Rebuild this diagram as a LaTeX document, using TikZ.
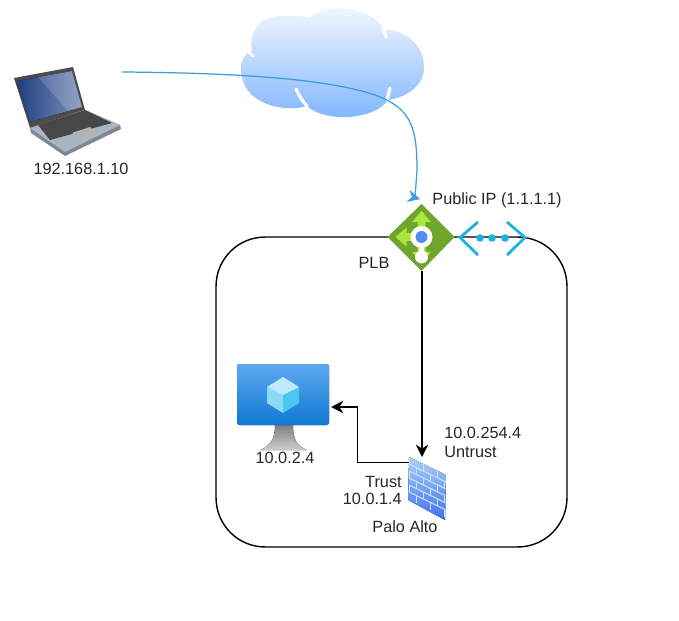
\documentclass[tikz,border=0pt]{standalone}
\usepackage{fontspec}
\setmainfont{Liberation Sans}
\usepackage{xcolor}
\usetikzlibrary{positioning, calc, arrows.meta}

\begin{document}
\begin{tikzpicture}[
  x=0.02cm, y=-0.02cm,
  font=\fontsize{9.25pt}{11pt}\selectfont,
  >={Stealth[length=7pt,width=7pt]},
  flow/.style={->, black, line width=0.85pt},
  txt/.style={inner sep=0pt, align=left, text=black!85},
  cut/.style={white, line width=1.8pt, line cap=round},
]
\definecolor{cLine}{HTML}{3D9BE0}    % blue flow line
\definecolor{cCloudT}{HTML}{F6FAFF}  % cloud top
\definecolor{cCloudB}{HTML}{7DB4FF}  % cloud bottom
\definecolor{cGreen}{HTML}{6FA52C}   % load balancer body
\definecolor{cLime}{HTML}{ABE63A}    % load balancer arrows
\definecolor{cCyan}{HTML}{1CB4DC}    % public ip icon
\definecolor{cVmA}{HTML}{5EA8EE}
\definecolor{cVmB}{HTML}{0F78D4}
\definecolor{cScreenA}{HTML}{1F3F80} % laptop screen
\definecolor{cScreenB}{HTML}{7F93BC}
\definecolor{cSilver}{HTML}{A9B6C2}  % laptop body
\definecolor{cBrick}{HTML}{C4E2F8}   % firewall mortar

\useasboundingbox (0,0) rectangle (679,621);
\fill[white] (0,0) rectangle (679,621);

% =====================================================================
% Cloud
% =====================================================================
\path[top color=cCloudT, bottom color=cCloudB]
  (252,50) .. controls (248,28) and (265,14) .. (285,16)
  .. controls (295,16) and (303,16) .. (310,17)
  .. controls (322,5) and (365,2) .. (386,30)
  .. controls (405,30) and (424,45) .. (424,67)
  .. controls (424,85) and (408,97) .. (388,100)
  .. controls (375,120) and (325,123) .. (307,106)
  .. controls (290,112) and (241,108) .. (241,68)
  .. controls (241,60) and (245,54) .. (252,50) -- cycle;
\draw[cut] (296,89) .. controls (299,96) and (303,102) .. (307,106);
\draw[cut] (247,50) -- (253,56);
\draw[cut] (383,27) -- (386,37);
\draw[cut] (390,88) -- (387,100);

% =====================================================================
% Laptop
% =====================================================================
\coordinate (laptop) at (122,72);
\fill[cSilver!75!black] (30,128) -- (83,109) -- (120,125) -- (121,129) -- (65,156) -- (31,133) -- cycle;
\fill[black!70] (14,78) -- (73,67) -- (85,110) -- (30,128) -- cycle;
\fill[left color=cScreenA, right color=cScreenB] (17,81) -- (72,71) -- (82,107) -- (30,122) -- cycle;
\fill[white, opacity=0.15] (38,77) -- (72,71) -- (82,107) -- (68,111) -- cycle;
\fill[cSilver] (30,128) -- (84,110) -- (120,125) -- (65,152) -- cycle;
\fill[black!72] (38,125) -- (85,110) -- (112,123) -- (50,140) -- cycle;
\fill[black!30] (72,133) -- (90,127) -- (95,133) -- (80,138) -- cycle;
\node[txt] (laptopip) at (81,169) {192.168.1.10};

% =====================================================================
% Private network box
% =====================================================================
\node[draw=black, line width=0.8pt, rounded corners=28pt, minimum width=7.02cm, minimum height=6.2cm, inner sep=0pt] (vnet) at (391.5,392) {};

% =====================================================================
% Load balancer and public ip
% =====================================================================
\coordinate (plb) at (421.5,237);
\coordinate (plbin) at (420,199);
\coordinate (plbout) at (422,271);
\fill[cGreen] (421.5,204) -- (454.5,237) -- (421.5,271) -- (387.5,237) -- cycle;
\foreach \a in {0,90,180} {
  \fill[cLime, rotate around={\a:(421.5,237)}] (421.5,211) -- (431,222) -- (425.5,222) -- (425.5,231) -- (417.5,231) -- (417.5,222) -- (412,222) -- cycle;
}
\draw[white, line width=2.4pt] (421.5,245) -- (421.5,255);
\fill[white] (421.5,257) circle (6.5);
\fill[white] (421.5,237) circle (11);
\fill[cVmA!85!blue] (421.5,237) circle (6);
\node[txt] (plblabel) at (374,263) {PLB};
\node[txt] (publicip) at (497,200) {Public IP (1.1.1.1)};

\draw[cCyan, line width=1.6pt] (478,222) -- (460,237.5) -- (478,255);
\draw[cCyan, line width=1.6pt] (507,222) -- (525,237.5) -- (507,255);
\foreach \x in {480,492,505} {
  \fill[cCyan] (\x,238) circle (3.8);
}

% =====================================================================
% VM
% =====================================================================
\coordinate (vm) at (331,407);
\fill[top color=black!50, bottom color=black!20] (275,425) -- (293,425) .. controls (293,440) and (297,446) .. (307,450) -- (260,450) .. controls (270,446) and (275,440) .. (275,425) -- cycle;
\fill[top color=cVmA, bottom color=cVmB, rounded corners=1.5pt] (237,364) rectangle (329,425);
\fill[cyan!45!white] (283,395) -- (267,387) -- (267,403) -- (283,413) -- cycle;
\fill[cyan!70!white] (283,395) -- (299,387) -- (299,403) -- (283,413) -- cycle;
\fill[cyan!25!white] (283,377) -- (299,387) -- (283,395) -- (267,387) -- cycle;
\node[txt] (vmip) at (285,458) {10.0.2.4};

% =====================================================================
% Firewall
% =====================================================================
\coordinate (fwin) at (422,457);
\coordinate (fwout) at (409,462.5);
\begin{scope}
  \clip (409,457) -- (446,475) -- (445,520) -- (408,500) -- cycle;
  \fill[top color=cVmA!50!white, bottom color=blue!35!cVmA] (405,455) rectangle (448,522);
  \foreach \i in {1,...,5} {
    \draw[cBrick, line width=0.6pt] (409,457+7*\i) -- (446,475+7*\i);
  }
  \foreach \i/\s in {0/0,1/7,2/0,3/7,4/0,5/7} {
    \foreach \k in {0,14,28} {
      \pgfmathsetmacro{\bx}{409+\k+\s}
      \pgfmathsetmacro{\by}{457+7*\i+(\bx-409)/2}
      \draw[cBrick, line width=0.5pt] (\bx,\by) -- (\bx,\by+7);
    }
  }
\end{scope}
\node[txt, anchor=east] (trust) at (402,482) {Trust};
\node[txt, anchor=east] (trustip) at (402,499) {10.0.1.4};
\node[txt] (fwlabel) at (405,527) {Palo Alto};
\node[txt, anchor=west] (untrustip) at (444,433) {10.0.254.4};
\node[txt, anchor=west] (untrust) at (444,452) {Untrust};

% =====================================================================
% Connectors
% =====================================================================
\draw[cLine, line width=0.7pt]
  (laptop) .. controls (250,73) and (330,80) .. (375,95)
  .. controls (410,108) and (417,125) .. (417,170) -- (415,198);
\draw[-{Stealth[length=7pt,width=7pt]}, cLine, line width=0.7pt] ($(plbin)+(-6,-1.5)$) -- (plbin);
\draw[flow] (plbout) -- (fwin);
\draw[flow] (fwout) -- (357.5,462.5) -- (357.5,407) -- (vm);

\end{tikzpicture}
\end{document}
